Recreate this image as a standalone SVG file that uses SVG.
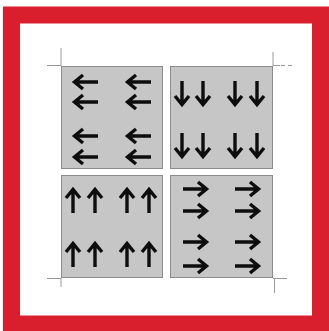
<svg xmlns="http://www.w3.org/2000/svg" xmlns:xlink="http://www.w3.org/1999/xlink" width="329" height="331" viewBox="0 0 329 331">
<style>
.quad{fill:#c6c6c6;stroke:#8c8c8c;stroke-width:1}
.crop{stroke:#9a9a9a;stroke-width:1;fill:none}
.arr{fill:none;stroke:#0d0d0d;stroke-width:3.4;stroke-linejoin:miter}
</style>
<defs>
<path id="a" class="arr" d="M1,0 H25 M10,-7 L1.5,0 L10,7"/>
</defs>
<rect x="0" y="0" width="329" height="331" fill="#fff"/>
<rect x="11.5" y="15" width="309" height="309" fill="#fff" stroke="#d91f2e" stroke-width="17"/>
<g id="cropmarks">
<path class="crop" d="M61,48 V66 M47,65.5 H61"/>
<path class="crop" d="M273,52 V66 M273,65.5 H280"/>
<path class="crop" d="M281,65.5 H286 M288,65.5 H293" stroke-dasharray="4 3"/>
<path class="crop" d="M61,278 V287 M47,278.5 H61"/>
<path class="crop" d="M274.5,278 V293 M273,278.5 H287"/>
</g>
<g id="q-left">
<rect class="quad" x="61.5" y="66.5" width="101" height="102"/>
<use xlink:href="#a" transform="translate(73,82)"/>
<use xlink:href="#a" transform="translate(73,102)"/>
<use xlink:href="#a" transform="translate(73,136)"/>
<use xlink:href="#a" transform="translate(73,157)"/>
<use xlink:href="#a" transform="translate(126,82)"/>
<use xlink:href="#a" transform="translate(126,102)"/>
<use xlink:href="#a" transform="translate(126,136)"/>
<use xlink:href="#a" transform="translate(126,157)"/>
</g>
<g id="q-down">
<rect class="quad" x="170.5" y="66.5" width="102" height="102"/>
<use xlink:href="#a" transform="translate(182,106) rotate(-90)"/>
<use xlink:href="#a" transform="translate(203,106) rotate(-90)"/>
<use xlink:href="#a" transform="translate(235,106) rotate(-90)"/>
<use xlink:href="#a" transform="translate(257,106) rotate(-90)"/>
<use xlink:href="#a" transform="translate(182,158) rotate(-90)"/>
<use xlink:href="#a" transform="translate(203,158) rotate(-90)"/>
<use xlink:href="#a" transform="translate(235,158) rotate(-90)"/>
<use xlink:href="#a" transform="translate(257,158) rotate(-90)"/>
</g>
<g id="q-up">
<rect class="quad" x="61.5" y="175.5" width="101" height="102"/>
<use xlink:href="#a" transform="translate(73,188) rotate(90)"/>
<use xlink:href="#a" transform="translate(95,188) rotate(90)"/>
<use xlink:href="#a" transform="translate(127,188) rotate(90)"/>
<use xlink:href="#a" transform="translate(149,188) rotate(90)"/>
<use xlink:href="#a" transform="translate(73,242) rotate(90)"/>
<use xlink:href="#a" transform="translate(95,242) rotate(90)"/>
<use xlink:href="#a" transform="translate(127,242) rotate(90)"/>
<use xlink:href="#a" transform="translate(149,242) rotate(90)"/>
</g>
<g id="q-right">
<rect class="quad" x="170.5" y="175.5" width="102" height="102"/>
<use xlink:href="#a" transform="translate(208,189) rotate(180)"/>
<use xlink:href="#a" transform="translate(208,211) rotate(180)"/>
<use xlink:href="#a" transform="translate(208,242) rotate(180)"/>
<use xlink:href="#a" transform="translate(208,266) rotate(180)"/>
<use xlink:href="#a" transform="translate(260,189) rotate(180)"/>
<use xlink:href="#a" transform="translate(260,211) rotate(180)"/>
<use xlink:href="#a" transform="translate(260,242) rotate(180)"/>
<use xlink:href="#a" transform="translate(260,266) rotate(180)"/>
</g>
<g id="connectors"/>
</svg>
